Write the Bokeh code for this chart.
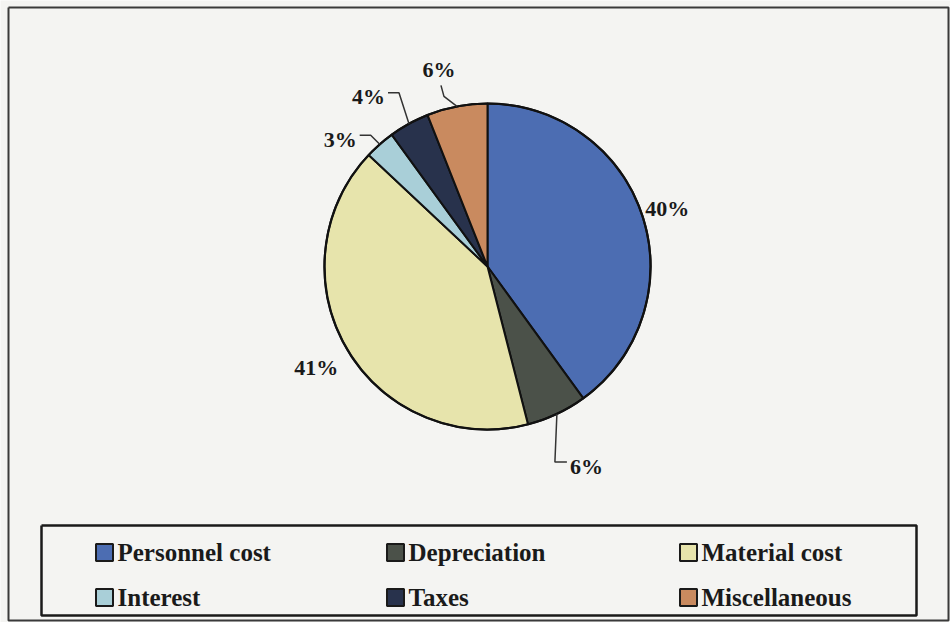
import math
from bokeh.plotting import figure
from bokeh.models import Range1d, ColumnDataSource
from bokeh.core.properties import value
from bokeh.embed import file_html
from bokeh.resources import INLINE

# Cost structure shares (percent)
categories = ["Personnel cost", "Depreciation", "Material cost",
              "Interest", "Taxes", "Miscellaneous"]
shares = [40, 6, 41, 3, 4, 6]
colors = ["#4c6db2", "#4b5149", "#e7e4ac", "#a9cfd8", "#28324c", "#c98a5f"]

W, H = 950, 622
CX, CY, R = 487, H - 266, 163
FONT = value("Liberation Serif")

p = figure(width=W, height=H, x_range=Range1d(0, W), y_range=Range1d(0, H),
           output_backend="svg", toolbar_location=None, min_border=0)
p.axis.visible = False
p.grid.visible = False
p.outline_line_color = None
p.background_fill_color = "#f4f4f2"
p.border_fill_color = "#f4f4f2"

# outer frame
p.line([8, 948, 948, 8, 8], [H - 7, H - 7, H - 620, H - 620, H - 7],
       line_color="#3a3a3a", line_width=2)

# wedges, clockwise from twelve o'clock
total = float(sum(shares))
starts, ends, mids = [], [], []
cum = 0.0
for s in shares:
    a0 = math.pi / 2 - 2 * math.pi * (cum + s) / total
    a1 = math.pi / 2 - 2 * math.pi * cum / total
    starts.append(a0)
    ends.append(a1)
    mids.append((a0 + a1) / 2)
    cum += s

src = ColumnDataSource(dict(start=starts, end=ends, color=colors))
p.wedge(x=CX, y=CY, radius=R, start_angle="start", end_angle="end",
        fill_color="color", line_color="#111111", line_width=2, source=src)
p.circle(x=[CX], y=[CY], radius=R, fill_color=None,
         line_color="#111111", line_width=2.2)

# label placement per slice: leader offsets (image-style dx, dy), text offset, alignment
layout = [
    dict(r=1.16, leader=None),
    dict(leader=[(-2, 48), (12, 0)], txt=(3, 5), align="left"),
    dict(r=1.22, leader=None),
    dict(leader=[(-9, -9), (-11, 0)], txt=(-3, 4), align="right"),
    dict(leader=[(-10, -31), (-11, 0)], txt=(-3, 4), align="right"),
    dict(leader=[(-13, -10), (-3, -11)], txt=(-2, -16), align="center"),
]

lx, ly, ltxt, lalign = [], [], [], []
for share, mid, lay in zip(shares, mids, layout):
    label = f"{share}%"
    if lay["leader"] is None:
        lx.append(CX + lay["r"] * R * math.cos(mid))
        ly.append(CY + lay["r"] * R * math.sin(mid))
        ltxt.append(label)
        lalign.append("center")
        continue
    x = CX + R * math.cos(mid)
    y = CY + R * math.sin(mid)
    xs, ys = [x], [y]
    for dx, dy in lay["leader"]:
        x += dx
        y -= dy
        xs.append(x)
        ys.append(y)
    p.line(xs, ys, line_color="#333333", line_width=1.5)
    lx.append(x + lay["txt"][0])
    ly.append(y - lay["txt"][1])
    ltxt.append(label)
    lalign.append(lay["align"])

lab_src = ColumnDataSource(dict(x=lx, y=ly, text=ltxt, align=lalign))
p.text(x="x", y="y", text="text", text_align="align", text_baseline="middle",
       text_font=FONT, text_font_style="bold", text_font_size="22px",
       text_color="#1a1a1a", source=lab_src)

# legend box
p.line([41, 916, 916, 41, 41], [H - 525, H - 525, H - 615, H - 615, H - 525],
       line_color="#1a1a1a", line_width=2.5)

col_x = [104, 395, 688]
row_y = [H - 552, H - 597]
sx, sy, tx = [], [], []
for i in range(len(categories)):
    c, r = i % 3, i // 3
    sx.append(col_x[c])
    sy.append(row_y[r])
    tx.append(col_x[c] + 13)
leg_src = ColumnDataSource(dict(x=sx, y=sy, tx=tx, color=colors, name=categories))
p.rect(x="x", y="y", width=17, height=17, fill_color="color",
       line_color="#1a1a1a", line_width=2, source=leg_src)
p.text(x="tx", y="y", text="name", text_baseline="middle",
       text_font=FONT, text_font_style="bold", text_font_size="25px",
       text_color="#1a1a1a", source=leg_src)

open("out.html", "w").write(file_html(p, INLINE))
